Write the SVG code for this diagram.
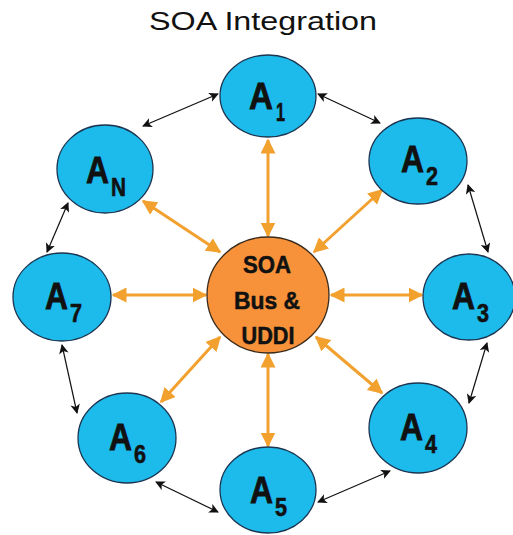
<svg xmlns="http://www.w3.org/2000/svg" width="513" height="535" viewBox="0 0 513 535">
<defs>
<style>
.node{fill:#1DBAEC;stroke:#1B3550;stroke-width:1.3}
.hub{fill:#F7923A;stroke:#3A2A1A;stroke-width:1.3}
.big{font-family:"Liberation Sans",Arial,sans-serif;font-weight:bold;font-size:37px;fill:#111;stroke:#111;stroke-width:0.8}
.sub{font-family:"Liberation Sans",Arial,sans-serif;font-weight:bold;font-size:25px;fill:#111;stroke:#111;stroke-width:0.6}
.hubt{font-family:"Liberation Sans",Arial,sans-serif;font-weight:bold;font-size:23px;fill:#111;stroke:#111;stroke-width:0.5;text-anchor:middle}
.title{font-family:"Liberation Sans",Arial,sans-serif;font-size:25px;fill:#111;text-anchor:middle}
.oarr{stroke:#F2A02E;stroke-width:3;fill:none;marker-start:url(#oh);marker-end:url(#oh)}
.barr{stroke:#111;stroke-width:1.2;fill:none;marker-start:url(#bh);marker-end:url(#bh)}
</style>
<marker id="oh" viewBox="0 0 10 10" refX="9" refY="5" markerWidth="5" markerHeight="5" orient="auto-start-reverse" markerUnits="strokeWidth">
<path d="M0,0 L10,5 L0,10 Z" fill="#F2A02E"/>
</marker>
<marker id="bh" viewBox="0 0 10 10" refX="9" refY="5" markerWidth="9" markerHeight="8" orient="auto-start-reverse" markerUnits="strokeWidth">
<path d="M0,0 L10,5 L0,10 L2.5,5 Z" fill="#111"/>
</marker>
</defs>
<rect width="513" height="535" fill="#fff"/>
<text class="title" x="263" y="30" textLength="228" lengthAdjust="spacingAndGlyphs">SOA Integration</text>
<g id="connectors">
<line class="oarr" x1="268" y1="236" x2="268" y2="140"/>
<line class="oarr" x1="314" y1="252" x2="382" y2="190"/>
<line class="oarr" x1="331" y1="295" x2="422" y2="295"/>
<line class="oarr" x1="316" y1="337" x2="382" y2="393"/>
<line class="oarr" x1="268" y1="354" x2="268" y2="446"/>
<line class="oarr" x1="220" y1="337" x2="161" y2="402"/>
<line class="oarr" x1="206" y1="295" x2="113" y2="295"/>
<line class="oarr" x1="220" y1="252" x2="143" y2="201"/>
<line class="barr" x1="143" y1="126" x2="218" y2="94"/>
<line class="barr" x1="318" y1="94" x2="380" y2="123"/>
<line class="barr" x1="468" y1="185" x2="488" y2="252"/>
<line class="barr" x1="487" y1="343" x2="469" y2="403"/>
<line class="barr" x1="390" y1="471" x2="318" y2="502"/>
<line class="barr" x1="156" y1="482" x2="218" y2="512"/>
<line class="barr" x1="62" y1="345" x2="77" y2="413"/>
<line class="barr" x1="68" y1="203" x2="47" y2="252"/>
</g>
<g id="hub">
<ellipse class="hub" cx="268" cy="295" rx="61" ry="58"/>
<text class="hubt" x="267" y="273" textLength="48" lengthAdjust="spacingAndGlyphs">SOA</text>
<text class="hubt" x="267" y="309" textLength="66" lengthAdjust="spacingAndGlyphs">Bus &amp;</text>
<text class="hubt" x="268" y="344" textLength="53" lengthAdjust="spacingAndGlyphs">UDDI</text>
</g>
<g id="A1">
<ellipse class="node" cx="268" cy="96" rx="48" ry="41"/>
<text class="big" x="249" y="109" textLength="24" lengthAdjust="spacingAndGlyphs">A</text>
<text class="sub" x="276" y="121" textLength="9" lengthAdjust="spacingAndGlyphs">1</text>
</g>
<g id="A2">
<ellipse class="node" cx="418" cy="161" rx="49" ry="43"/>
<text class="big" x="401" y="172" textLength="23" lengthAdjust="spacingAndGlyphs">A</text>
<text class="sub" x="426" y="185" textLength="12" lengthAdjust="spacingAndGlyphs">2</text>
</g>
<g id="A3">
<ellipse class="node" cx="469" cy="297" rx="46" ry="43"/>
<text class="big" x="452" y="309" textLength="23" lengthAdjust="spacingAndGlyphs">A</text>
<text class="sub" x="477" y="322" textLength="12" lengthAdjust="spacingAndGlyphs">3</text>
</g>
<g id="A4">
<ellipse class="node" cx="418" cy="428" rx="49" ry="45"/>
<text class="big" x="400" y="440" textLength="23" lengthAdjust="spacingAndGlyphs">A</text>
<text class="sub" x="425" y="453" textLength="12" lengthAdjust="spacingAndGlyphs">4</text>
</g>
<g id="A5">
<ellipse class="node" cx="268" cy="490" rx="48" ry="43"/>
<text class="big" x="250" y="503" textLength="23" lengthAdjust="spacingAndGlyphs">A</text>
<text class="sub" x="275" y="516" textLength="12" lengthAdjust="spacingAndGlyphs">5</text>
</g>
<g id="A6">
<ellipse class="node" cx="127" cy="438" rx="49" ry="45"/>
<text class="big" x="109" y="450" textLength="23" lengthAdjust="spacingAndGlyphs">A</text>
<text class="sub" x="134" y="463" textLength="12" lengthAdjust="spacingAndGlyphs">6</text>
</g>
<g id="A7">
<ellipse class="node" cx="62" cy="297" rx="49" ry="44"/>
<text class="big" x="45" y="309" textLength="23" lengthAdjust="spacingAndGlyphs">A</text>
<text class="sub" x="70" y="322" textLength="12" lengthAdjust="spacingAndGlyphs">7</text>
</g>
<g id="AN">
<ellipse class="node" cx="105" cy="169" rx="48" ry="44"/>
<text class="big" x="86" y="183" textLength="23" lengthAdjust="spacingAndGlyphs">A</text>
<text class="sub" x="111" y="196" textLength="15" lengthAdjust="spacingAndGlyphs">N</text>
</g>
</svg>
